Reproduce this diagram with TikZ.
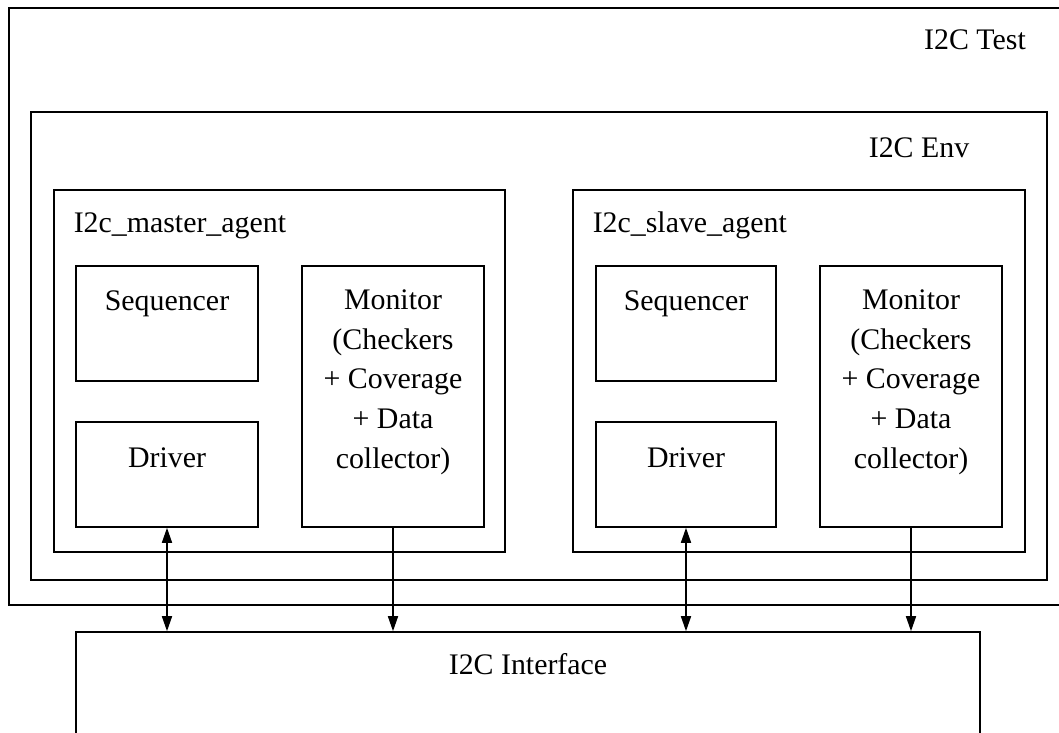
\documentclass[tikz,border=0pt]{standalone}
\usepackage{fontspec}
\setmainfont{Liberation Serif}
\usetikzlibrary{arrows.meta}

\begin{document}
\begin{tikzpicture}[x=0.02cm, y=-0.02cm, line width=0.9pt,
	box/.style={draw, rectangle, inner sep=0pt},
	lbl/.style={inner sep=0pt, anchor=base, font=\fontsize{17}{22.5}\selectfont},
	>={Triangle[length=0.3cm, width=0.2cm]}]
	\clip (0,0) rectangle (1059,733);

	% containers
	\node[box, minimum width=1066*0.02cm, minimum height=597*0.02cm] (test) at (542,306.5) {};
	\node[box, minimum width=1016*0.02cm, minimum height=468*0.02cm] (env) at (539,346) {};
	\node[box, minimum width=451*0.02cm, minimum height=362*0.02cm] (magent) at (279.5,371) {};
	\node[box, minimum width=452*0.02cm, minimum height=362*0.02cm] (sagent) at (799,371) {};

	\node[lbl] (testlbl) at (975,50) {I2C Test};
	\node[lbl] (envlbl) at (919,158) {I2C Env};
	\node[lbl, anchor=base west] (magentlbl) at (73,233) {I2c\_master\_agent};
	\node[lbl, anchor=base west] (sagentlbl) at (592,233) {I2c\_slave\_agent};

	% master agent
	\node[box, minimum width=182*0.02cm, minimum height=115*0.02cm] (mseq) at (167,323.5) {};
	\node[box, minimum width=182*0.02cm, minimum height=105*0.02cm] (mdrv) at (167,474.5) {};
	\node[box, minimum width=182*0.02cm, minimum height=261*0.02cm] (mmon) at (393,396.5) {};
	\node[lbl] (mseqlbl) at (167,311) {Sequencer};
	\node[lbl] (mdrvlbl) at (167,467) {Driver};
	% base of a multi-line node is its last line
	\node[lbl, align=center] (mmonlbl) at (393,468) {Monitor\\(Checkers\\+ Coverage\\+ Data\\collector)};

	% slave agent
	\node[box, minimum width=180*0.02cm, minimum height=115*0.02cm] (sseq) at (686,323.5) {};
	\node[box, minimum width=180*0.02cm, minimum height=105*0.02cm] (sdrv) at (686,474.5) {};
	\node[box, minimum width=182*0.02cm, minimum height=261*0.02cm] (smon) at (911,396.5) {};
	\node[lbl] (sseqlbl) at (686,311) {Sequencer};
	\node[lbl] (sdrvlbl) at (686,467) {Driver};
	\node[lbl, align=center] (smonlbl) at (911,468) {Monitor\\(Checkers\\+ Coverage\\+ Data\\collector)};

	% interface
	\node[box, minimum width=904*0.02cm, minimum height=128*0.02cm] (iface) at (528,696) {};
	\node[lbl] (ifacelbl) at (528,674) {I2C Interface};

	\draw[<->] (mdrv.south) -- (mdrv.south |- iface.north);
	\draw[->] (mmon.south) -- (mmon.south |- iface.north);
	\draw[<->] (sdrv.south) -- (sdrv.south |- iface.north);
	\draw[->] (smon.south) -- (smon.south |- iface.north);
\end{tikzpicture}
\end{document}
